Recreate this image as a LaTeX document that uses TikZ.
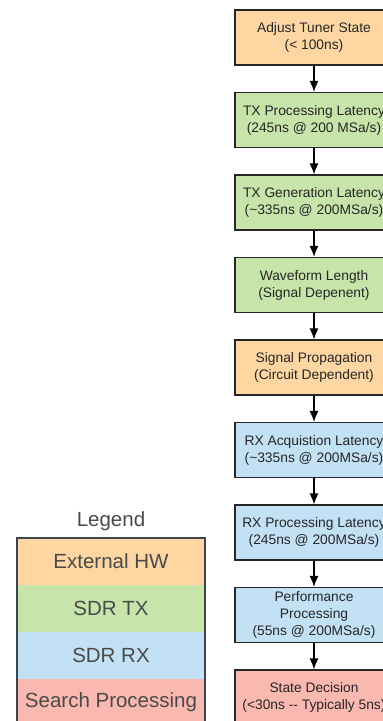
\documentclass[tikz,border=0pt]{standalone}
\usepackage{fontspec}
\setmainfont{Liberation Sans}
\usetikzlibrary{arrows.meta}
\definecolor{cext}{HTML}{FDD6A2}
\definecolor{ctx}{HTML}{C7E5AA}
\definecolor{crx}{HTML}{C3E1F5}
\definecolor{csp}{HTML}{F9B8B0}
\definecolor{lborder}{HTML}{3B4550}
\definecolor{ltext}{HTML}{4A4A4A}
\tikzset{
  stepbox/.style={draw=black!85, line width=1.2pt, rectangle, inner sep=0pt,
    minimum width=158pt, minimum height=55pt, align=center,
    font=\fontsize{13.8}{17}\selectfont, text=black!85},
  arr/.style={-{Latex[length=11pt,width=9pt]}, line width=1.3pt, black},
  legrow/.style={rectangle, inner sep=0pt, minimum width=188pt, minimum height=47pt,
    font=\fontsize{20.5}{24}\selectfont, text=ltext},
}
\begin{document}
\begin{tikzpicture}[x=1pt,y=-1pt]
\useasboundingbox (0,0) rectangle (383,721);
\clip (0,0) rectangle (383,721);
\node[stepbox, fill=cext] (b1) at (314,37.5) {Adjust Tuner State\\(< 100ns)};
\node[stepbox, fill=ctx] (b2) at (314,120) {TX Processing Latency\\(245ns @ 200 MSa/s)};
\node[stepbox, fill=ctx] (b3) at (314,202.5) {TX Generation Latency\\(\char`~335ns @ 200MSa/s)};
\node[stepbox, fill=ctx] (b4) at (314,285) {Waveform Length\\(Signal Depenent)};
\node[stepbox, fill=cext] (b5) at (314,367.5) {Signal Propagation\\(Circuit Dependent)};
\node[stepbox, fill=crx] (b6) at (314,450) {RX Acquistion Latency\\(\char`~335ns @ 200MSa/s)};
\node[stepbox, fill=crx] (b7) at (314,532.5) {RX Processing Latency\\(245ns @ 200MSa/s)};
\node[stepbox, fill=crx] (b8) at (314,615) {Performance\\Processing\\(55ns @ 200MSa/s)};
\node[stepbox, fill=csp] (b9) at (314,697.5) {State Decision\\(<30ns -{}- Typically 5ns)};
\foreach \a/\b in {b1/b2,b2/b3,b3/b4,b4/b5,b5/b6,b6/b7,b7/b8,b8/b9}
  \draw[arr] (\a) -- (\b);
% legend
\node[font=\fontsize{20.5}{24}\selectfont, text=ltext] (lt) at (111,521) {Legend};
\node[legrow, fill=cext] (l1) at (111,561.5) {External HW};
\node[legrow, fill=ctx] (l2) at (111,608.5) {SDR TX};
\node[legrow, fill=crx] (l3) at (111,655.5) {SDR RX};
\node[legrow, fill=csp] (l4) at (111,702.5) {Search Processing};
\draw[lborder, line width=2.5pt] (l4.south west) rectangle (l1.north east);
\end{tikzpicture}
\end{document}
